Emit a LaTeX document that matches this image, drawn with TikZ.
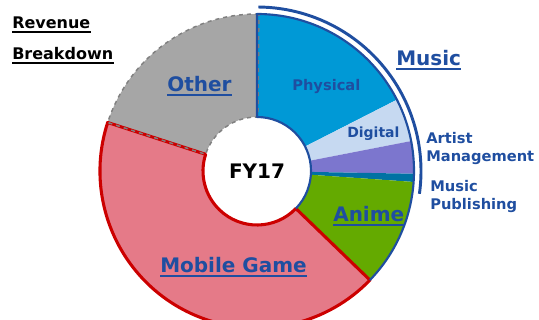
\documentclass[tikz,border=0pt]{standalone}
\usepackage{fontspec}
\setmainfont{DejaVu Sans}
\usetikzlibrary{calc}

\definecolor{lblue}{RGB}{31,78,160}
\definecolor{physcol}{RGB}{0,153,214}
\definecolor{digcol}{RGB}{198,217,241}
\definecolor{artcol}{RGB}{124,118,206}
\definecolor{pubcol}{RGB}{0,114,163}
\definecolor{animecol}{RGB}{100,170,0}
\definecolor{mobcol}{RGB}{229,122,136}
\definecolor{othcol}{RGB}{166,166,166}
\definecolor{othline}{RGB}{128,128,128}
\definecolor{mobline}{RGB}{204,0,0}

\begin{document}
\begin{tikzpicture}[x=0.75pt,y=0.75pt,
	lbl/.style={inner sep=0pt, anchor=base west, text=lblue, font=\bfseries},
	uline/.style={lblue, line width=1.3pt},
	musline/.style={lblue, line width=1.6pt, line join=round},
	bracket/.style={lblue, line width=2.2pt}]

	\useasboundingbox (0,0) rectangle (539,-320);
	\coordinate (c) at (257,-171);

	% Segments
	\fill[physcol] ($(c)+(27:157)$) arc[start angle=27,end angle=90,radius=157] -- ($(c)+(90:54)$) arc[start angle=90,end angle=27,radius=54] -- cycle;
	\fill[digcol] ($(c)+(11:157)$) arc[start angle=11,end angle=27,radius=157] -- ($(c)+(27:54)$) arc[start angle=27,end angle=11,radius=54] -- cycle;
	\fill[artcol] ($(c)+(-1:157)$) arc[start angle=-1,end angle=11,radius=157] -- ($(c)+(11:54)$) arc[start angle=11,end angle=-1,radius=54] -- cycle;
	\fill[pubcol] ($(c)+(-4:157)$) arc[start angle=-4,end angle=-1,radius=157] -- ($(c)+(-1:54)$) arc[start angle=-1,end angle=-4,radius=54] -- cycle;
	\fill[animecol] ($(c)+(-44:157)$) arc[start angle=-44,end angle=-4,radius=157] -- ($(c)+(-4:54)$) arc[start angle=-4,end angle=-44,radius=54] -- cycle;
	\fill[mobcol] ($(c)+(162:157)$) arc[start angle=162,end angle=316,radius=157] -- ($(c)+(316:54)$) arc[start angle=316,end angle=162,radius=54] -- cycle;
	\fill[othcol] ($(c)+(90:157)$) arc[start angle=90,end angle=162,radius=157] -- ($(c)+(162:54)$) arc[start angle=162,end angle=90,radius=54] -- cycle;

	% Outlines
	\draw[mobline, line width=2.3pt, line join=round] ($(c)+(162:157)$) arc[start angle=162,end angle=316,radius=157] -- ($(c)+(316:54)$) arc[start angle=316,end angle=162,radius=54] -- cycle;
	\draw[othline, dashed, line width=1.1pt] ($(c)+(89.3:157)$) arc[start angle=89.3,end angle=162,radius=157] -- ($(c)+(162:54)$) arc[start angle=162,end angle=89,radius=54] -- cycle;
	\draw[musline] ($(c)+(-44:54)$) arc[start angle=-44,end angle=90,radius=54] -- ($(c)+(90:157)$) arc[start angle=90,end angle=-44,radius=157];

	% Music bracket
	\draw[bracket] ($(c)+(89.5:164)$) arc[start angle=89.5,end angle=-8,radius=164];

	% Labels
	\node[inner sep=0pt, font=\bfseries\fontsize{15}{18}\selectfont] (fy) at (c) {FY17};
	\node[lbl, text=black, font=\bfseries\fontsize{12}{14}\selectfont] (rev) at (12,-29) {Revenue};
	\node[lbl, text=black, font=\bfseries\fontsize{12}{14}\selectfont] (brk) at (12,-60) {Breakdown};
	\node[lbl, font=\bfseries\fontsize{15}{18}\selectfont] (music) at (396,-66) {Music};
	\node[lbl, font=\bfseries\fontsize{11}{13}\selectfont] (phys) at (292,-91) {Physical};
	\node[lbl, font=\bfseries\fontsize{10.5}{13}\selectfont] (dig) at (347,-138) {Digital};
	\node[lbl, font=\bfseries\fontsize{11}{13}\selectfont] (art) at (426,-144) {Artist};
	\node[lbl, font=\bfseries\fontsize{11}{13}\selectfont] (mgmt) at (426,-162) {Management};
	\node[lbl, font=\bfseries\fontsize{11}{13}\selectfont] (mus2) at (430,-192) {Music};
	\node[lbl, font=\bfseries\fontsize{11}{13}\selectfont] (pub) at (430,-210) {Publishing};
	\node[lbl, font=\bfseries\fontsize{15}{18}\selectfont] (anime) at (333,-222) {Anime};
	\node[lbl, font=\bfseries\fontsize{15}{18}\selectfont] (mob) at (160,-273) {Mobile Game};
	\node[lbl, font=\bfseries\fontsize{15}{18}\selectfont] (oth) at (167,-92) {Other};

	% Underlines
	\draw[uline, black] ([yshift=-2.2pt]rev.base west) -- ([yshift=-2.2pt]rev.base east);
	\draw[uline, black] ([yshift=-2.2pt]brk.base west) -- ([yshift=-2.2pt]brk.base east);
	\draw[uline] ([yshift=-2.5pt]music.base west) -- ([yshift=-2.5pt]music.base east);
	\draw[uline] ([yshift=-2.5pt]anime.base west) -- ([yshift=-2.5pt]anime.base east);
	\draw[uline] ([yshift=-2.5pt]mob.base west) -- ([yshift=-2.5pt]mob.base east);
	\draw[uline] ([yshift=-2.5pt]oth.base west) -- ([yshift=-2.5pt]oth.base east);

\end{tikzpicture}
\end{document}
